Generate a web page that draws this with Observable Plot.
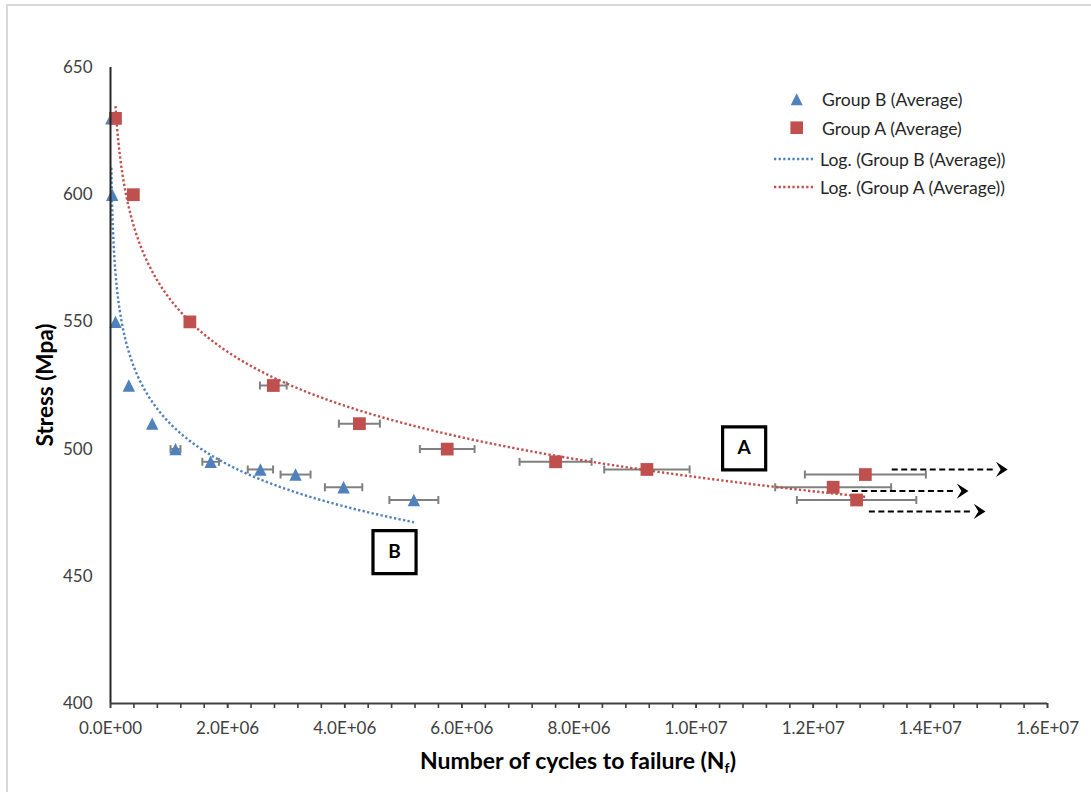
<!DOCTYPE html>
<html><head><meta charset="utf-8">
<script src="https://cdn.jsdelivr.net/npm/d3@7"></script>
<script src="https://cdn.jsdelivr.net/npm/@observablehq/plot@0.6"></script>
<style>
html,body{margin:0;padding:0;background:#fff;}
#wrap{position:relative;width:1091px;height:792px;overflow:hidden;font-family:Lato,"Liberation Sans",sans-serif;}
#frame{position:absolute;left:6px;top:4px;width:1200px;height:900px;border-left:2px solid #d9d9d9;border-top:2px solid #d9d9d9;}
#chart{position:absolute;left:0;top:0;}
.ytitle{position:absolute;left:44px;top:385px;transform:translate(-50%,-50%) rotate(-90deg);font-weight:bold;font-size:22.5px;color:#000;white-space:nowrap;}
.xtitle{position:absolute;left:578px;top:761px;transform:translate(-50%,-50%);font-weight:bold;font-size:23px;color:#000;white-space:nowrap;}
.xtitle sub{font-size:14px;vertical-align:-4px;}
.leg{position:absolute;font-size:17.6px;color:#262626;white-space:nowrap;transform:translateY(-50%);}
.sw{position:absolute;}
</style></head><body>
<div id="wrap"><div id="frame"></div><div id="chart"></div></div>
<script>
// ---- data ----
const cyclesB = [1.5e4, 2.9e4, 8.5e4, 3.13e5, 7.12e5, 1.11e6, 1.71e6, 2.56e6, 3.16e6, 3.98e6, 5.18e6];
const stressB = [630, 600, 550, 525, 510, 500, 495, 492, 490, 485, 480];
const errB    = [0, 0, 0, 0, 0, 8.5e4, 1.42e5, 2.16e5, 2.56e5, 3.19e5, 4.18e5];

const cyclesA = [8.5e4, 3.9e5, 1.355e6, 2.78e6, 4.25e6, 5.75e6, 7.6e6, 9.16e6, 1.234e7, 1.289e7, 1.274e7];
const stressA = [630, 600, 550, 525, 510, 500, 495, 492, 485, 490, 480];
const errA    = [0, 0, 0, 2.28e5, 3.5e5, 4.67e5, 6.15e5, 7.29e5, 9.9e5, 1.033e6, 1.02e6];

// run-out arrows (annotations)
const arrowX1 = [1.334e7, 1.266e7, 1.295e7];
const arrowX2 = [1.532e7, 1.465e7, 1.494e7];
const arrowY  = [492, 483.5, 475.5];

// boxed labels
const boxLabels = ["A", "B"];
const boxX = [1.082e7, 4.85e6];
const boxY = [500.3, 459.5];

// axes
const xTicks = [0, 2e6, 4e6, 6e6, 8e6, 1e7, 1.2e7, 1.4e7, 1.6e7];
const xTickLabels = ["0.0E+00","2.0E+06","4.0E+06","6.0E+06","8.0E+06","1.0E+07","1.2E+07","1.4E+07","1.6E+07"];
const xMinorStep = 4e5;
const yTicks = [400, 450, 500, 550, 600, 650];

const blue = "#4F81BD", red = "#C0504D";

// ---- tables ----
const B = cyclesB.map((x, i) => ({x, y: stressB[i], e: errB[i]}));
const A = cyclesA.map((x, i) => ({x, y: stressA[i], e: errA[i]}));
const arrows = arrowY.map((y, i) => ({x1: arrowX1[i], x2: arrowX2[i], y}));
const boxes = boxLabels.map((t, i) => ({t, x: boxX[i], y: boxY[i]}));
const minorTicks = d3.range(0, 1.6e7 + 1, xMinorStep);

// Excel-style logarithmic trendline (least squares of y on ln x)
function logTrend(rows) {
  const L = rows.map(d => Math.log(d.x)), Y = rows.map(d => d.y);
  const mL = d3.mean(L), mY = d3.mean(Y);
  let sxy = 0, sxx = 0;
  L.forEach((l, i) => { sxy += (l - mL) * (Y[i] - mY); sxx += (l - mL) ** 2; });
  const a = sxy / sxx, b = mY - a * mL;
  const lo = d3.min(rows, d => d.x), hi = d3.max(rows, d => d.x);
  const xs = [];
  for (let i = 0; i <= 300; i++) xs.push(lo + (hi - lo) * i / 300);
  for (let i = 0; i <= 200; i++) xs.push(Math.exp(Math.log(lo) + (Math.log(hi) - Math.log(lo)) * i / 200));
  xs.sort((p, q) => p - q);
  return xs.map(x => ({x, y: a * Math.log(x) + b}));
}
const trendB = logTrend(B), trendA = logTrend(A);

const tri = {draw(ctx, size) { const s = Math.sqrt(size); ctx.moveTo(0, -s / 2); ctx.lineTo(s / 2, s / 2); ctx.lineTo(-s / 2, s / 2); ctx.closePath(); }};
const vline = {draw(ctx, size) { const s = Math.sqrt(size); ctx.moveTo(0, -s / 2); ctx.lineTo(0, s / 2); }};
const stealth = {draw(ctx, size) { const s = Math.sqrt(size); ctx.moveTo(0, 0); ctx.lineTo(-s, -0.65 * s); ctx.lineTo(-0.6 * s, 0); ctx.lineTo(-s, 0.65 * s); ctx.closePath(); }};

const errRows = B.concat(A).filter(d => d.e > 0);
const errEnds = errRows.flatMap(d => [{x: d.x - d.e, y: d.y}, {x: d.x + d.e, y: d.y}]);

const chart = Plot.plot({
  width: 1091, height: 792,
  marginLeft: 110, marginRight: 44, marginTop: 67, marginBottom: 89,
  style: {fontFamily: "Lato, 'Liberation Sans', sans-serif", fontSize: "17px", background: "transparent", overflow: "visible"},
  x: {domain: [0, 1.6e7]},
  y: {domain: [400, 650]},
  marks: [
    Plot.axisY({ticks: yTicks, tickSize: 0, tickPadding: 18, label: null, fill: "#404040", fontSize: 17}),
    Plot.axisX({ticks: minorTicks, tickSize: 5, tickFormat: () => "", label: null, stroke: "#404040", strokeWidth: 1.6}),
    Plot.axisX({ticks: xTicks, tickSize: 5, tickPadding: 13, tickFormat: d => xTickLabels[xTicks.indexOf(d)], label: null, fill: "#404040", stroke: "#404040", strokeWidth: 1.6, fontSize: 17}),
    // error bars
    Plot.link(errRows, {x1: d => d.x - d.e, x2: d => d.x + d.e, y1: "y", y2: "y", stroke: "#808080", strokeWidth: 2}),
    Plot.dot(errEnds, {x: "x", y: "y", symbol: vline, r: 4.5, stroke: "#808080", strokeWidth: 2, fill: "none"}),
    // markers
    Plot.dot(B, {x: "x", y: "y", symbol: tri, r: 7, fill: blue, stroke: "none"}),
    Plot.dot(A, {x: "x", y: "y", symbol: "square", r: 7.2, fill: red, stroke: "none"}),
    // log trendlines
    Plot.line(trendB, {x: "x", y: "y", stroke: blue, strokeWidth: 2.4, strokeDasharray: "2.3,2.3", strokeLinecap: "butt"}),
    Plot.line(trendA, {x: "x", y: "y", stroke: red, strokeWidth: 2.4, strokeDasharray: "2.3,2.3", strokeLinecap: "butt"}),
    // axis lines
    Plot.ruleX([0], {stroke: "#262626", strokeWidth: 2}),
    Plot.ruleY([400], {stroke: "#404040", strokeWidth: 2}),
    // run-out arrows
    Plot.link(arrows, {x1: "x1", x2: d => d.x2 - 2.5e5, y1: "y", y2: "y", stroke: "#000", strokeWidth: 2, strokeDasharray: "6,3.5", strokeLinecap: "butt"}),
    Plot.dot(arrows, {x: "x2", y: "y", symbol: stealth, r: 6.6, fill: "#000", stroke: "none"}),
    // boxed labels
    Plot.dot(boxes, {x: "x", y: "y", symbol: "square", r: 24.3, fill: "#fff", stroke: "#000", strokeWidth: 3.2}),
    Plot.text(boxes, {x: "x", y: "y", text: "t", fontSize: 19, fontWeight: "bold", fill: "#000"})
  ]
});
document.getElementById("chart").appendChild(chart);

const wrap = document.getElementById("wrap");
function addHTML(html) { const t = document.createElement("div"); t.innerHTML = html; wrap.appendChild(t.firstElementChild); }
addHTML('<div class="ytitle">Stress (Mpa)</div>');
addHTML('<div class="xtitle">Number of cycles to failure (N<sub>f</sub>)</div>');

// legend
const legendItems = ["Group B (Average)", "Group A (Average)", "Log. (Group B (Average))", "Log. (Group A (Average))"];
const legendY = [99, 127.5, 159, 187];
legendItems.forEach((t, i) => addHTML(`<div class="leg" style="left:${i < 2 ? 822 : 820}px;top:${legendY[i]}px">${t}</div>`));
addHTML(`<svg class="sw" style="left:0;top:0" width="1091" height="792" pointer-events="none">
 <path d="M796.7,93.3 L802.7,105.3 L790.7,105.3 Z" fill="${blue}"/>
 <rect x="790.4" y="121.4" width="12.6" height="12.6" fill="${red}"/>
 <line x1="774" y1="159" x2="815" y2="159" stroke="${blue}" stroke-width="2.4" stroke-dasharray="2.3,2.3"/>
 <line x1="774" y1="187" x2="815" y2="187" stroke="${red}" stroke-width="2.4" stroke-dasharray="2.3,2.3"/>
</svg>`);
</script>
</body></html>
